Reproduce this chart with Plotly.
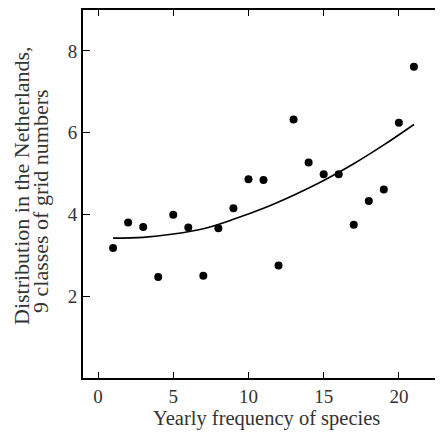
import plotly.graph_objects as go

freq = [1, 2, 3, 4, 5, 6, 7, 8, 9, 10, 11, 12, 13, 14, 15, 16, 17, 18, 19, 20, 21]
distribution = [3.18, 3.80, 3.69, 2.47, 3.99, 3.68, 2.50, 3.66, 4.15, 4.86, 4.84,
                 2.75, 6.32, 5.27, 4.98, 4.98, 3.75, 4.33, 4.61, 6.24, 7.61]

# trend curve, read at a few positions along its length
curve_x = [1, 3, 5, 7, 9, 11, 13, 15, 17, 19, 21]
curve_y = [3.42, 3.44, 3.52, 3.65, 3.88, 4.15, 4.47, 4.83, 5.24, 5.70, 6.20]

x_ticks = [0, 5, 10, 15, 20]
y_ticks = [2, 4, 6, 8]

x_title = "Yearly frequency of species"
y_title_lines = ["Distribution in the Netherlands,", "9 classes of grid numbers"]

FONT = "Times New Roman, Liberation Serif, serif"
TXT = "#333333"

fig = go.Figure()
fig.add_trace(go.Scatter(
    x=curve_x, y=curve_y, mode="lines", line=dict(color="black", width=1.6, shape="spline"),
    showlegend=False, hoverinfo="skip",
))
fig.add_trace(go.Scatter(
    x=freq, y=distribution, mode="markers",
    marker=dict(color="black", size=8), showlegend=False,
))

axis_common = dict(
    ticks="inside", tickwidth=1.3, tickcolor="black", showline=True, linecolor="black",
    mirror="ticks", showgrid=False, zeroline=False, automargin=False,
    tickfont=dict(family=FONT, size=19, color=TXT),
)

fig.update_layout(
    width=443, height=432,
    # page body adds an 8px offset, margins compensate for it
    margin=dict(l=75, r=7, t=2, b=62, autoexpand=False),
    paper_bgcolor="white", plot_bgcolor="white",
    font=dict(family=FONT, size=19, color=TXT),
    xaxis=dict(range=[-1, 23], tickvals=x_ticks, ticklen=6, linewidth=1.8, **axis_common),
    yaxis=dict(range=[0, 9], tickvals=y_ticks, ticklen=7, linewidth=2, **axis_common),
    annotations=[
        dict(text=x_title, xref="paper", yref="paper", x=0.5, y=0, xanchor="center",
             yanchor="middle", xshift=3, yshift=-40, showarrow=False,
             font=dict(family=FONT, size=20.5, color=TXT)),
        dict(text=y_title_lines[0], xref="paper", yref="paper", x=0, y=0.5, textangle=-90,
             xanchor="center", yanchor="middle", xshift=-62, yshift=8, showarrow=False,
             font=dict(family=FONT, size=22, color=TXT)),
        dict(text=y_title_lines[1], xref="paper", yref="paper", x=0, y=0.5, textangle=-90,
             xanchor="center", yanchor="middle", xshift=-43, yshift=-7, showarrow=False,
             font=dict(family=FONT, size=22, color=TXT)),
    ],
)

fig.write_html("out.html")
